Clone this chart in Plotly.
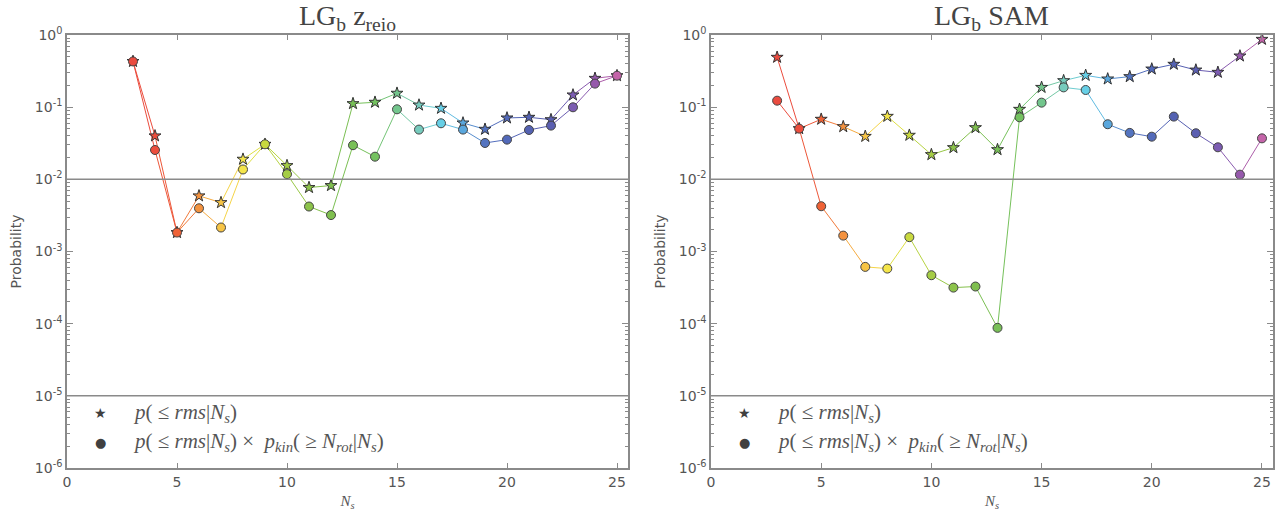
import plotly.graph_objects as go

# ---------------- data ----------------
Ns = list(range(3, 26))
zreio_rms = [0.43, 0.040, 0.00183, 0.0059, 0.00476, 0.019, 0.0306, 0.0155, 0.0077, 0.0082,
             0.112, 0.117, 0.156, 0.107, 0.0964, 0.0604, 0.0494, 0.0709, 0.0724, 0.0671,
             0.1476, 0.251, 0.273]
zreio_kin = [0.43, 0.0255, 0.00183, 0.00397, 0.00215, 0.0137, 0.0306, 0.0118, 0.0042, 0.0032,
             0.0297, 0.0206, 0.0934, 0.0489, 0.0598, 0.0489, 0.0319, 0.0355, 0.0483, 0.0555,
             0.0996, 0.212, 0.273]
sam_rms = [0.491, 0.0504, 0.068, 0.0537, 0.0394, 0.0747, 0.0408, 0.022, 0.0275, 0.052,
           0.0258, 0.0934, 0.188, 0.233, 0.276, 0.246, 0.265, 0.338, 0.393, 0.327,
           0.304, 0.512, 0.871]
sam_kin = [0.123, 0.0504, 0.00424, 0.00166, 0.000612, 0.00058, 0.00158, 0.000469, 0.000316, 0.000327,
           0.0000875, 0.0724, 0.1155, 0.188, 0.173, 0.058, 0.044, 0.039, 0.074, 0.0435,
           0.0278, 0.0116, 0.037]
point_colors = ["#ea4b3f", "#ec4d3c", "#ef6236", "#f3923f", "#f7c444", "#f4e54a", "#c9d93f",
                "#a5cd45", "#8cc34a", "#7fbf4f", "#78c057", "#74c260", "#73c68d", "#76cbbd",
                "#67cfe6", "#5aa7dd", "#5474c0", "#5269ba", "#5462b2", "#5b5fb1", "#7c5cb2",
                "#9659ac", "#c464a9"]
y_tickvals = [1e-6, 1e-5, 1e-4, 1e-3, 1e-2, 1e-1, 1e0]
y_ticktext = ["10<sup>-6</sup>", "10<sup>-5</sup>", "10<sup>-4</sup>", "10<sup>-3</sup>",
              "10<sup>-2</sup>", "10<sup>-1</sup>", "10<sup>0</sup>"]
x_tickvals = [0, 5, 10, 15, 20, 25]
hlines = [1e-2, 1e-5]
titles = ["LG<sub>b</sub> z<sub>reio</sub>", "LG<sub>b</sub> SAM"]
legend_labels = ["<i>p</i>( ≤ <i>rms</i>|<i>N<sub>s</sub></i>)",
                 "<i>p</i>( ≤ <i>rms</i>|<i>N<sub>s</sub></i>) ×  <i>p<sub>kin</sub></i>( ≥ <i>N<sub>rot</sub></i>|<i>N<sub>s</sub></i>)"]


def hex2rgb(h):
    h = h.lstrip("#")
    return tuple(int(h[i:i + 2], 16) for i in (0, 2, 4))


def mix(a, b):
    ra, rb = hex2rgb(a), hex2rgb(b)
    return "rgb(%d,%d,%d)" % tuple((x + y) // 2 for x, y in zip(ra, rb))


fig = go.Figure()

panels = [("x", "y", zreio_rms, zreio_kin), ("x2", "y2", sam_rms, sam_kin)]
for xa, ya, rms, kin in panels:
    for series in (rms, kin):
        for i in range(len(Ns) - 1):
            fig.add_trace(go.Scatter(
                x=Ns[i:i + 2], y=series[i:i + 2], mode="lines",
                line=dict(color=mix(point_colors[i], point_colors[i + 1]), width=1),
                xaxis=xa, yaxis=ya, showlegend=False, hoverinfo="skip"))
    fig.add_trace(go.Scatter(
        x=Ns, y=rms, mode="markers", xaxis=xa, yaxis=ya, showlegend=False,
        marker=dict(symbol="star", size=9, color=point_colors,
                    line=dict(color="#333333", width=1))))
    fig.add_trace(go.Scatter(
        x=Ns, y=kin, mode="markers", xaxis=xa, yaxis=ya, showlegend=False,
        marker=dict(symbol="circle", size=9, color=point_colors,
                    line=dict(color="#444444", width=1))))

axis_common = dict(showline=True, linecolor="#8a8a8a", linewidth=1.5, mirror="ticks",
                   ticks="inside", tickcolor="#8a8a8a", showgrid=False, zeroline=False,
                   automargin=False,
                   tickfont=dict(family="DejaVu Sans", size=14, color="#555555"))

fig.update_layout(
    template="none",
    width=1281, height=511,
    margin=dict(l=0, r=0, t=0, b=0),
    paper_bgcolor="white", plot_bgcolor="white",
    showlegend=False,
)

ydom = [43 / 511, 476 / 511]
xdoms = [[67 / 1281, 628 / 1281], [711 / 1281, 1273 / 1281]]
for k, (xa, ya) in enumerate([("xaxis", "yaxis"), ("xaxis2", "yaxis2")]):
    xkey = "x" if k == 0 else "x2"
    ykey = "y" if k == 0 else "y2"
    fig.update_layout({
        xa: dict(axis_common, domain=xdoms[k], range=[0, 25.5], tickvals=x_tickvals,
                 ticklen=5, anchor=ykey,
                 title=dict(text="<i>N<sub>s</sub></i>",
                            font=dict(family="Liberation Serif", size=15, color="#555555"))),
        ya: dict(axis_common, domain=ydom, type="log", range=[-6, 0], tickvals=y_tickvals,
                 ticktext=y_ticktext, ticklen=6, anchor=xkey,
                 minor=dict(ticks="inside", ticklen=3, tickcolor="#8a8a8a", dtick="D1",
                            showgrid=False)),
    })
    fig.add_annotation(text="Probability", textangle=-90, xref=xkey + " domain",
                       yref=ykey + " domain", x=0, y=0.5, xshift=-52, xanchor="center",
                       yanchor="middle", showarrow=False,
                       font=dict(family="DejaVu Sans", size=14, color="#555555"))
    for h in hlines:
        fig.add_shape(type="line", xref=xkey + " domain", yref=ykey, x0=0, x1=1, y0=h, y1=h,
                      line=dict(color="#8a8a8a", width=1.5))
    fig.add_annotation(text=titles[k], xref=xkey + " domain", yref="paper", x=0.5,
                       y=ydom[1], yanchor="bottom", showarrow=False, yshift=-2,
                       font=dict(family="Liberation Serif", size=28, color="#444444"))
    # legend
    for j, (sym, lab) in enumerate(zip(["★", "●"], legend_labels)):
        fig.add_annotation(text=sym, xref=xkey + " domain", yref="paper",
                           x=(33 / 561), y=(511 - 413 - 29 * j) / 511, xanchor="center",
                           yanchor="middle", showarrow=False,
                           font=dict(family="DejaVu Sans", size=14 if j == 0 else 13,
                                     color="#404040"))
        fig.add_annotation(text=lab, xref=xkey + " domain", yref="paper",
                           x=(64 / 561), y=(511 - 413 - 29 * j) / 511, xanchor="left",
                           yanchor="middle", showarrow=False,
                           font=dict(family="Liberation Serif", size=21, color="#555555"))

fig.write_html("out.html", config={"displayModeBar": False},
               post_script="document.body.style.margin='0';document.body.style.overflow='hidden';")
